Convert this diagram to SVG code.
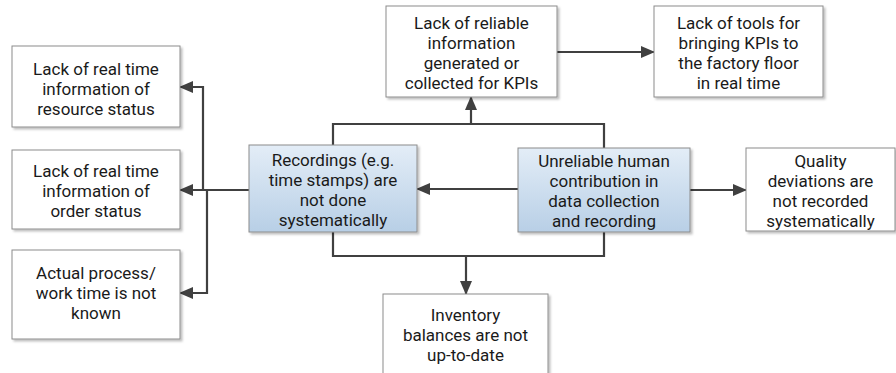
<svg xmlns="http://www.w3.org/2000/svg" width="896" height="373" viewBox="0 0 896 373">
<defs>
<linearGradient id="blue" x1="0" y1="0" x2="0" y2="1">
<stop offset="0" stop-color="#e3edf7"/>
<stop offset="1" stop-color="#b8cfe6"/>
</linearGradient>
<marker id="arr" markerUnits="userSpaceOnUse" markerWidth="14" markerHeight="12" refX="13" refY="6" orient="auto">
<path d="M0,0 L14,6 L0,12 Z" fill="#404040"/>
</marker>
<filter id="sh" x="-5%" y="-5%" width="115%" height="120%">
<feDropShadow dx="2" dy="2" stdDeviation="1" flood-color="#000" flood-opacity="0.25"/>
</filter>
</defs>
<style>
.box{fill:#fff;stroke:#8c8c8c;stroke-width:1;filter:url(#sh)}
.bbox{fill:url(#blue);stroke:#8c8c8c;stroke-width:1;filter:url(#sh)}
text{font-family:Roboto,"Liberation Sans",sans-serif;font-size:17px;fill:#1a1a1a;text-anchor:middle}
.c{fill:none;stroke:#404040;stroke-width:2.2}
.a{marker-end:url(#arr)}
</style>
<g id="connectors">
<path class="c a" d="M249,190 H180"/>
<path class="c a" d="M203,190 V87 H180"/>
<path class="c a" d="M207,190 V293 H180"/>
<path class="c" d="M333,145 V124 H604 V148"/>
<path class="c a" d="M471,124 V97"/>
<path class="c" d="M333,232 V256 H604 V232"/>
<path class="c a" d="M466,256 V294"/>
<path class="c a" d="M518,189 H417"/>
<path class="c a" d="M690,190 H746"/>
<path class="c a" d="M557,52 H654"/>
</g>
<g id="resource-status">
<rect class="box" x="12" y="46" width="168" height="81"/>
<text x="96" y="75"><tspan x="96">Lack of real time</tspan><tspan x="96" dy="20">information of</tspan><tspan x="96" dy="20">resource status</tspan></text>
</g>
<g id="order-status">
<rect class="box" x="12" y="150" width="168" height="79"/>
<text x="96" y="177"><tspan x="96">Lack of real time</tspan><tspan x="96" dy="20">information of</tspan><tspan x="96" dy="20">order status</tspan></text>
</g>
<g id="process-time">
<rect class="box" x="12" y="250" width="168" height="89"/>
<text x="96" y="279"><tspan x="96">Actual process/</tspan><tspan x="96" dy="20">work time is not</tspan><tspan x="96" dy="20">known</tspan></text>
</g>
<g id="recordings">
<rect class="bbox" x="249" y="145" width="168" height="87"/>
<text x="333" y="166"><tspan x="333">Recordings (e.g.</tspan><tspan x="333" dy="20">time stamps) are</tspan><tspan x="333" dy="20">not done</tspan><tspan x="333" dy="20">systematically</tspan></text>
</g>
<g id="unreliable">
<rect class="bbox" x="518" y="148" width="172" height="84"/>
<text x="604" y="167"><tspan x="604">Unreliable human</tspan><tspan x="604" dy="20">contribution in</tspan><tspan x="604" dy="20">data collection</tspan><tspan x="604" dy="20">and recording</tspan></text>
</g>
<g id="reliable-info">
<rect class="box" x="386" y="6" width="171" height="91"/>
<text x="471.5" y="29"><tspan x="471.5">Lack of reliable</tspan><tspan x="471.5" dy="20">information</tspan><tspan x="471.5" dy="20">generated or</tspan><tspan x="471.5" dy="20">collected for KPIs</tspan></text>
</g>
<g id="tools">
<rect class="box" x="654" y="6" width="169" height="91"/>
<text x="738.5" y="29"><tspan x="738.5">Lack of tools for</tspan><tspan x="738.5" dy="20">bringing KPIs to</tspan><tspan x="738.5" dy="20">the factory floor</tspan><tspan x="738.5" dy="20">in real time</tspan></text>
</g>
<g id="quality">
<rect class="box" x="746" y="148" width="149" height="83"/>
<text x="820.5" y="167"><tspan x="820.5">Quality</tspan><tspan x="820.5" dy="20">deviations are</tspan><tspan x="820.5" dy="20">not recorded</tspan><tspan x="820.5" dy="20">systematically</tspan></text>
</g>
<g id="inventory">
<rect class="box" x="383" y="294" width="165" height="84"/>
<text x="465.5" y="321"><tspan x="465.5">Inventory</tspan><tspan x="465.5" dy="20">balances are not</tspan><tspan x="465.5" dy="20">up-to-date</tspan></text>
</g>
</svg>
